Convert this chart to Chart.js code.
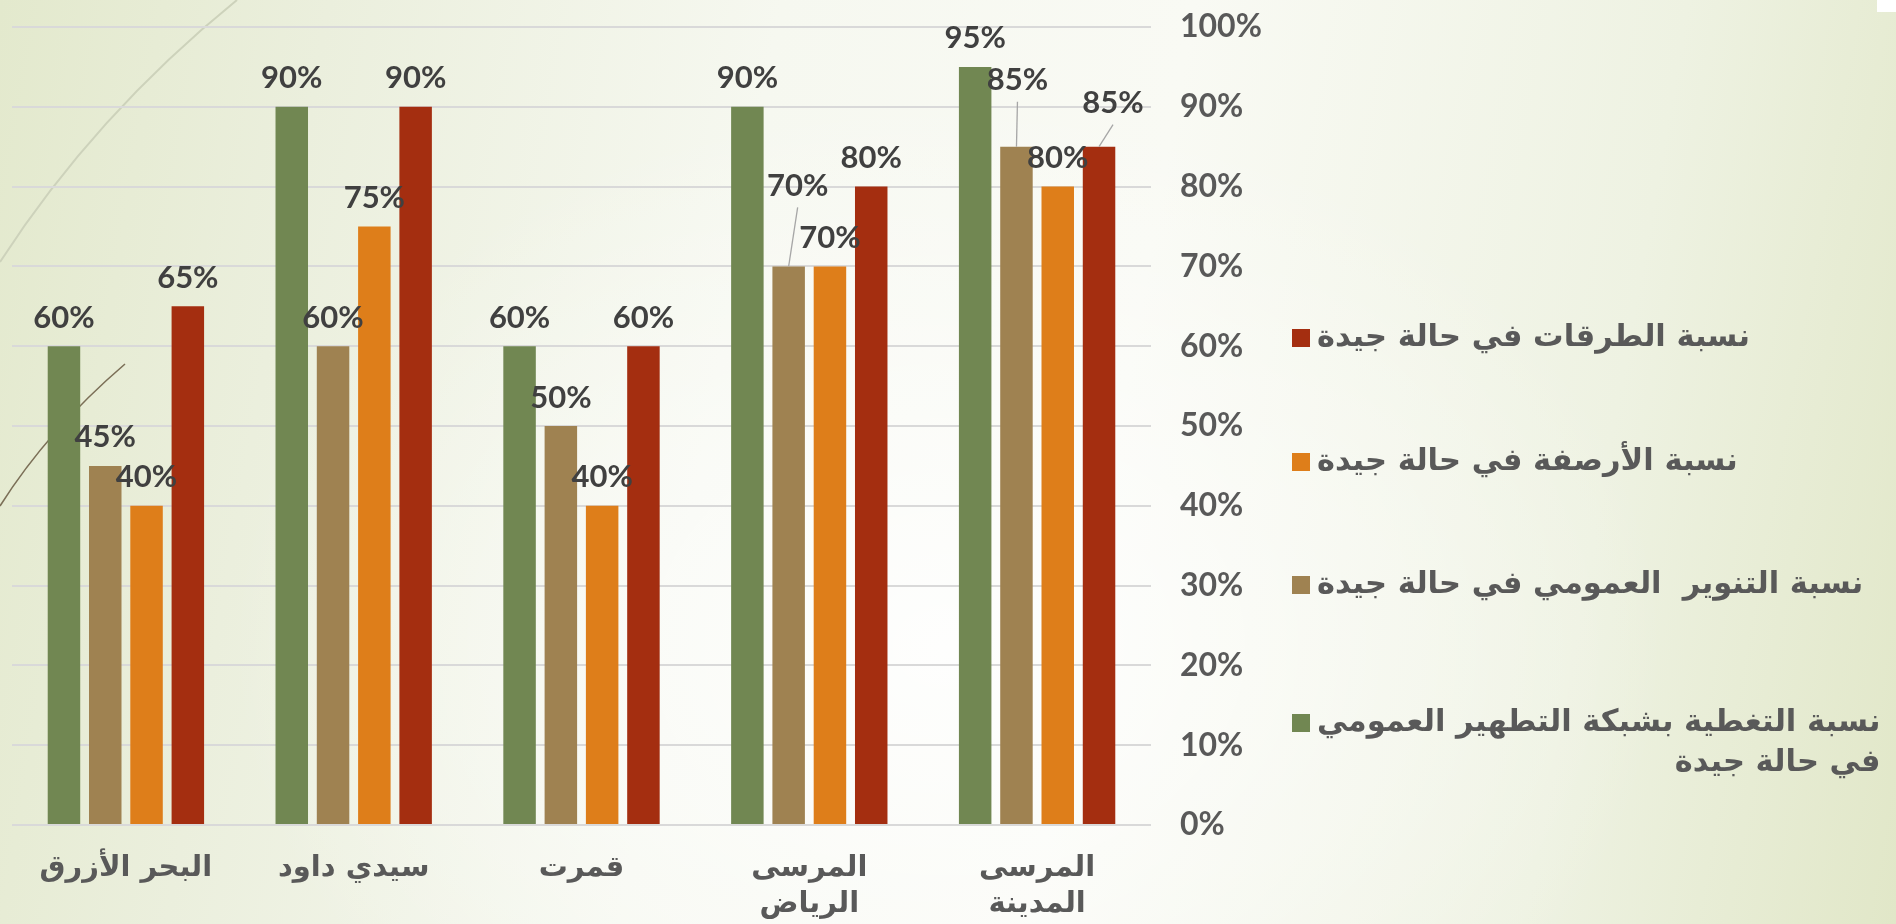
<!DOCTYPE html>
<html>
<head>
<meta charset="utf-8">
<script src="https://cdn.jsdelivr.net/npm/chart.js@4.4.0/dist/chart.umd.min.js"></script>
<style>
html,body{margin:0;padding:0;width:1896px;height:924px;overflow:hidden;}
body{
  background:
    radial-gradient(ellipse 38% 60% at 50% 70%, rgba(255,255,255,0.85) 0%, rgba(255,255,255,0) 100%),
    linear-gradient(100deg, #e3e9cd 0%, #ebefdd 16%, #f6f8f0 38%, #f9faf4 58%, #eef2e2 82%, #e1e7c8 100%);
}
canvas{display:block;}
</style>
</head>
<body>
<canvas id="c" width="1896" height="924"></canvas>
<script>
// ---- data (left-to-right order as drawn) ----
const categories = ['البحر الأزرق', 'سيدي داود', 'قمرت', ['المرسى', 'الرياض'], ['المرسى', 'المدينة']];
const sanitationValues = [60, 90, 60, 90, 95];   // green
const lightingValues   = [45, 60, 50, 70, 85];   // brown
const sidewalkValues   = [40, 75, 40, 70, 80];   // orange
const roadValues       = [65, 90, 60, 80, 85];   // red
const sanitationName = ['نسبة التغطية بشبكة التطهير العمومي', 'في حالة جيدة'];
const lightingName   = ['نسبة التنوير  العمومي في حالة جيدة'];
const sidewalkName   = ['نسبة الأرصفة في حالة جيدة'];
const roadName       = ['نسبة الطرقات في حالة جيدة'];
const yTickValues = [0, 10, 20, 30, 40, 50, 60, 70, 80, 90, 100];

// ---- styles ----
const COLORS = { green: '#718752', brown: '#9f8251', orange: '#de7e1a', red: '#a42e10' };
const NUM_FONT = 'Lato';
const AR_FONT = '"DejaVu Sans"';

// manual label displacements (dataset-index, category-index)
const labelAdjust = {
  '1-3': { dx: 9, dy: -52, leader: true },
  '1-4': { dx: 1, dy: -38, leader: true },
  '3-4': { dx: 14, dy: -15, leader: true }
};

const decorPlugin = {
  id: 'decor',
  beforeDraw(chart) {
    const ctx = chart.ctx;
    ctx.save();
    ctx.strokeStyle = '#cdd2bb';
    ctx.lineWidth = 2;
    ctx.beginPath();
    ctx.moveTo(237, 0);
    ctx.quadraticCurveTo(95, 115, 0, 262);
    ctx.stroke();
    ctx.strokeStyle = '#7b6f57';
    ctx.lineWidth = 1.6;
    ctx.beginPath();
    ctx.moveTo(125, 364);
    ctx.quadraticCurveTo(48, 430, 0, 506);
    ctx.stroke();
    ctx.fillStyle = '#ffffff';
    ctx.fillRect(1877, 0, 19, 12);
    ctx.restore();
  }
};

const valueLabels = {
  id: 'valueLabels',
  afterDatasetsDraw(chart) {
    const ctx = chart.ctx;
    ctx.save();
    ctx.font = 'bold 31px ' + NUM_FONT;
    ctx.textAlign = 'center';
    ctx.textBaseline = 'alphabetic';
    chart.data.datasets.forEach((ds, di) => {
      const meta = chart.getDatasetMeta(di);
      meta.data.forEach((bar, i) => {
        const adj = labelAdjust[di + '-' + i] || { dx: 0, dy: 0 };
        const lx = bar.x + adj.dx;
        const ly = bar.y - 30 + adj.dy;
        if (adj.leader) {
          ctx.strokeStyle = '#a6a6a6';
          ctx.lineWidth = 1.3;
          ctx.beginPath();
          ctx.moveTo(lx, ly + 23);
          ctx.lineTo(bar.x, bar.y);
          ctx.stroke();
        }
        ctx.fillStyle = '#404040';
        ctx.fillText(ds.data[i] + '%', lx, ly + 11.5);
      });
    });
    ctx.restore();
  }
};

const legendLayout = { markerX: 1292, markerSize: 18, textX: 1317, firstLineY: [338, 462, 585, 723], lineGap: 40 };
const sideLegend = {
  id: 'sideLegend',
  afterDraw(chart) {
    const ctx = chart.ctx;
    const order = [3, 2, 1, 0];
    ctx.save();
    ctx.font = 'bold 30.5px ' + AR_FONT;
    ctx.direction = 'rtl';
    ctx.textAlign = 'right';
    ctx.textBaseline = 'middle';
    order.forEach((di, k) => {
      const ds = chart.data.datasets[di];
      const y = legendLayout.firstLineY[k];
      ctx.fillStyle = ds.backgroundColor;
      ctx.fillRect(legendLayout.markerX, y - legendLayout.markerSize / 2, legendLayout.markerSize, legendLayout.markerSize);
      const lines = Array.isArray(ds.label) ? ds.label : [ds.label];
      const maxW = Math.max(...lines.map(l => ctx.measureText(l).width));
      ctx.fillStyle = '#595959';
      lines.forEach((l, j) => ctx.fillText(l, legendLayout.textX + maxW, y + j * legendLayout.lineGap));
    });
    ctx.restore();
  }
};

function build() {
  const mk = (name, vals, color) => ({
    label: name, data: vals, backgroundColor: color, borderWidth: 0,
    barPercentage: 0.787, categoryPercentage: 0.725
  });
  new Chart(document.getElementById('c'), {
    type: 'bar',
    data: {
      labels: categories,
      datasets: [
        mk(sanitationName, sanitationValues, COLORS.green),
        mk(lightingName, lightingValues, COLORS.brown),
        mk(sidewalkName, sidewalkValues, COLORS.orange),
        mk(roadName, roadValues, COLORS.red)
      ]
    },
    options: {
      responsive: false,
      devicePixelRatio: 1,
      animation: false,
      layout: { padding: { left: 12, top: 27, right: 634, bottom: 0 } },
      plugins: { legend: { display: false }, tooltip: { enabled: false } },
      scales: {
        x: {
          grid: { display: false, drawTicks: false },
          border: { display: false },
          ticks: {
            color: '#595959',
            font: { family: AR_FONT, weight: 'bold', size: 29, lineHeight: '36px' },
            padding: 25, maxRotation: 0, autoSkip: false
          },
          afterFit(s) { s.height = 99; }
        },
        y: {
          position: 'right',
          min: 0, max: 100,
          afterBuildTicks(s) { s.ticks = yTickValues.map(v => ({ value: v })); },
          grid: { color: '#d9d9d9', lineWidth: 2, drawTicks: true, tickLength: 29, tickColor: 'rgba(0,0,0,0)' },
          border: { display: false },
          ticks: {
            color: '#595959',
            font: { family: NUM_FONT, weight: 'bold', size: 32 },
            padding: 0,
            callback: v => v + '%'
          },
          afterFit(s) { s.width = 111; }
        }
      }
    },
    plugins: [decorPlugin, valueLabels, sideLegend]
  });
}

Promise.all([
  document.fonts.load('bold 32px Lato'),
  document.fonts.load('bold 30px "DejaVu Sans"', 'نسبة')
]).then(build, build);
</script>
</body>
</html>
